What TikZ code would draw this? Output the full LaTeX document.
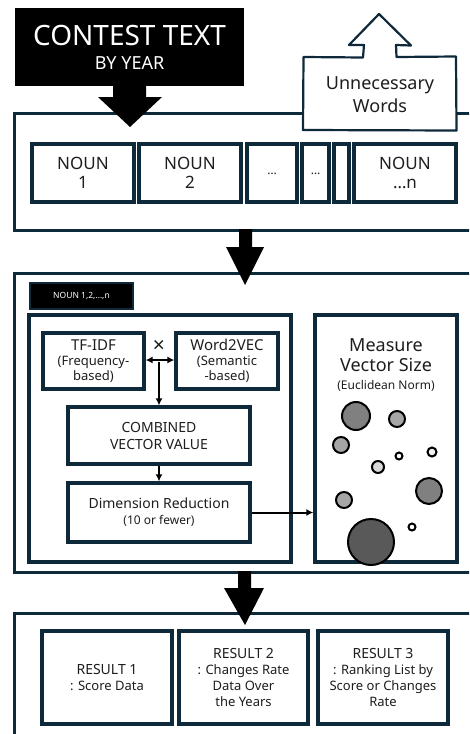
\documentclass[tikz,border=0pt]{standalone}
\usepackage{fontspec}
\setmainfont{Noto Sans}
\usetikzlibrary{arrows.meta}
\definecolor{navy}{HTML}{0E2A3A}
\definecolor{ink}{HTML}{1E1E1E}
\begin{document}
\begin{tikzpicture}[x=1pt, y=-1pt, >={Latex[length=7pt,width=7pt]},
    frame/.style={draw=navy, line width=3pt},
    box/.style={draw=navy, line width=3.3pt, fill=white, align=center, inner sep=0pt, text=ink},
    bubble/.style={draw=black, line width=2pt},
    link/.style={line width=2pt}]
    \useasboundingbox (0,0) rectangle (469,734);
    \clip (0,0) rectangle (469,734);
    \fill[white] (0,0) rectangle (469,734);
    \draw[frame] (14,113) rectangle (490,230);
    \draw[frame] (14,273) rectangle (490,572);
    \draw[frame] (14,613) rectangle (490,760);
    \node[box, minimum width=102pt, minimum height=58pt, font=\fontsize{17}{19}\selectfont] (noun1) at (83,173) {NOUN\\1};
    \node[box, minimum width=102pt, minimum height=58pt, font=\fontsize{17}{19}\selectfont] (noun2) at (190,173) {NOUN\\2};
    \node[box, minimum width=50pt, minimum height=58pt, font=\fontsize{12}{14}\selectfont] (dots1) at (272,173) {\raisebox{-4pt}{…}};
    \node[box, minimum width=27pt, minimum height=58pt, font=\fontsize{12}{14}\selectfont] (dots2) at (315.5,173) {\raisebox{-4pt}{…}};
    \node[box, minimum width=15pt, minimum height=58pt] (gap) at (341.5,173) {};
    \node[box, minimum width=102pt, minimum height=58pt, font=\fontsize{17}{19}\selectfont] (nounn) at (405,173) {NOUN\\…n};
    \filldraw[fill=white, draw=navy, line width=2.2pt, line join=round]
        (303,130) -- (303.5,57) -- (363,57.5) -- (364,45) -- (349,45) -- (379,14)
        -- (411,45.5) -- (396,45) -- (396.5,57) -- (456,56.5) -- (456.5,130.5) -- cycle;
    \node[align=center, text=ink, font=\fontsize{18}{23}\selectfont] (unneeded) at (380,95) {Unnecessary\\Words};
    \node[fill=black, minimum width=229pt, minimum height=78pt, inner sep=0pt, text=white, align=center,
        font=\fontsize{18}{24}\selectfont] (contest) at (129.5,47) {{\fontsize{28}{28}\selectfont CONTEST TEXT}\\BY YEAR};
    \fill[black] (113,85) -- (146,85) -- (146,97) -- (162,97) -- (130,127) -- (98,97) -- (113,97) -- cycle;
    \fill[black] (239,229) -- (252,229) -- (252,247) -- (264,247) -- (245,285) -- (226,247) -- (239,247) -- cycle;
    \node[fill=black, draw=navy, line width=1.8pt, minimum width=103pt, minimum height=26pt, inner sep=0pt,
        text=white, font=\fontsize{8.5}{10}\selectfont] (nounlist) at (81.5,296) {NOUN 1,2,…,n};
    \node[box, minimum width=262pt, minimum height=247pt] (embedbox) at (160,438.5) {};
    \node[box, minimum width=142pt, minimum height=247pt] (sizebox) at (386,438.5) {};
    \node[box, minimum width=101pt, minimum height=56pt, font=\fontsize{13}{15}\selectfont] (tfidf) at (93.5,361)
        {{\fontsize{15}{15}\selectfont TF-IDF}\\(Frequency-\\based)};
    \node[box, minimum width=102pt, minimum height=56pt, font=\fontsize{13}{15}\selectfont] (w2v) at (227,361)
        {{\fontsize{15}{15}\selectfont Word2VEC}\\(Semantic\\-based)};
    \node[text=ink, font=\fontsize{21}{21}\selectfont, inner sep=0pt] (cross) at (159,346) {×};
    \coordinate (join) at (159,362);
    \node[box, minimum width=182pt, minimum height=57pt, font=\fontsize{14}{17}\selectfont] (comb) at (159,435.5)
        {COMBINED\\VECTOR VALUE};
    \node[box, minimum width=182pt, minimum height=59pt, font=\fontsize{12}{16}\selectfont] (dim) at (159,512.5)
        {{\fontsize{14}{16}\selectfont Dimension Reduction}\\(10 or fewer)};
    \draw[link, <->] ([yshift=1pt]tfidf.east) -- ([yshift=1pt]w2v.west);
    \draw[link, ->] (join) -- (comb.north);
    \draw[link, ->] (comb.south) -- (dim.north);
    \draw[link, ->] (dim.east) -- (dim.east -| sizebox.west);
    \node[align=center, text=ink, font=\fontsize{12}{18}\selectfont] (measure) at (386,365)
        {{\fontsize{18}{22}\selectfont Measure}\\[2pt]{\fontsize{18}{22}\selectfont Vector Size}\\(Euclidean Norm)};
    \filldraw[bubble, fill=black!50] (356,416) circle (14);
    \filldraw[bubble, fill=black!35] (397,419) circle (8);
    \filldraw[bubble, fill=black!35] (341,445) circle (8);
    \filldraw[bubble, fill=white] (399,456) circle (3.5);
    \filldraw[bubble, fill=black!5] (432,452) circle (4.5);
    \filldraw[bubble, fill=black!15] (378,467) circle (6);
    \filldraw[bubble, fill=black!50] (429,491) circle (13);
    \filldraw[bubble, fill=black!35] (344,500) circle (8);
    \filldraw[bubble, fill=white] (412,527) circle (3.5);
    \filldraw[bubble, fill=black!65] (371,542) circle (23);
    \fill[black] (238,571) -- (251,571) -- (251,588) -- (264,588) -- (245,625) -- (224,588) -- (238,588) -- cycle;
    \node[box, minimum width=130pt, minimum height=93pt, font=\fontsize{13}{16}\selectfont] (result1) at (107,677.5)
        {{\fontsize{14}{16}\selectfont RESULT 1}\\: Score Data};
    \node[box, minimum width=129pt, minimum height=93pt, font=\fontsize{13}{16}\selectfont] (result2) at (243.5,677.5)
        {{\fontsize{14}{16}\selectfont RESULT 2}\\: Changes Rate\\Data Over\\the Years};
    \node[box, minimum width=130pt, minimum height=93pt, font=\fontsize{13}{16}\selectfont] (result3) at (383,677.5)
        {{\fontsize{14}{16}\selectfont RESULT 3}\\: Ranking List by\\Score or Changes\\Rate};
\end{tikzpicture}
\end{document}
